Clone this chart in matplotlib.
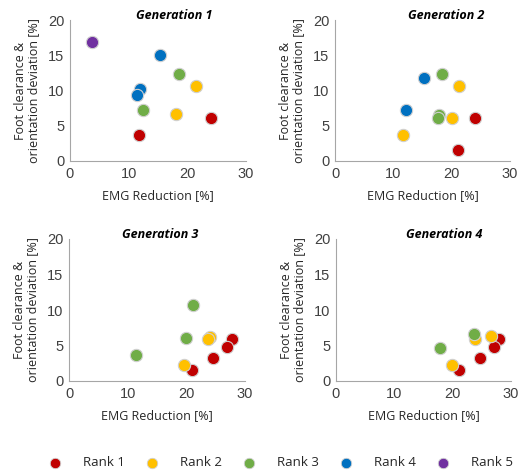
import matplotlib.pyplot as plt
from matplotlib.lines import Line2D

rank_names = ["Rank 1", "Rank 2", "Rank 3", "Rank 4", "Rank 5"]
rank_colors = ["#C00000", "#FFC000", "#70AD47", "#0070C0", "#7030A0"]

# generation -> rank -> (emg reduction, deviation) lists
gen1_x = [[24.1, 11.8], [21.5, 18.1], [18.5, 12.4], [15.3, 12.0, 11.5], [3.7]]
gen1_y = [[6.1, 3.7], [10.6, 6.6], [12.3, 7.3], [15.1, 10.2, 9.4], [16.9]]

gen2_x = [[24.0, 21.1], [21.3, 20.1, 11.7], [18.3, 17.9, 17.7], [15.3, 12.1], []]
gen2_y = [[6.1, 1.5], [10.6, 6.1, 3.7], [12.3, 6.5, 6.1], [11.8, 7.2], []]

gen3_x = [[27.8, 26.9, 24.6, 20.9], [24.0, 23.7, 19.6], [21.1, 20.0, 11.5], [], []]
gen3_y = [[5.9, 4.8, 3.3, 1.5], [6.2, 5.9, 2.3], [10.7, 6.1, 3.7], [], []]

gen4_x = [[27.9, 27.0, 24.6, 21.1], [26.6, 23.9, 19.9], [23.7, 17.9], [], []]
gen4_y = [[5.9, 4.8, 3.3, 1.5], [6.4, 5.9, 2.3], [6.6, 4.6], [], []]

generations = [("Generation 1", gen1_x, gen1_y), ("Generation 2", gen2_x, gen2_y),
               ("Generation 3", gen3_x, gen3_y), ("Generation 4", gen4_x, gen4_y)]

W, H = 519, 472
fig = plt.figure(figsize=(W / 100, H / 100), dpi=100)

# axes boxes in pixels: left, right, top, bottom
boxes = [(70, 246, 20, 161), (335, 510, 20, 161),
         (69, 245, 239, 381), (336, 511, 239, 381)]
title_x = [0.59, 0.635, 0.52, 0.62]

label_font = "Open Sans"
tick_font = "Liberation Sans"

for (title, xs, ys), (l, r, t, b), tx in zip(generations, boxes, title_x):
    ax = fig.add_axes([l / W, 1 - b / H, (r - l) / W, (b - t) / H])
    for rank in range(len(rank_names)):
        if xs[rank]:
            ax.scatter(xs[rank], ys[rank], s=78, color=rank_colors[rank],
                       edgecolors="#d0d0d0", linewidths=0.8, zorder=3, clip_on=False)
    ax.set_xlim(0, 30)
    ax.set_ylim(0, 20)
    ax.set_xticks([0, 10, 20, 30])
    ax.set_yticks([0, 5, 10, 15, 20])
    for sp in ["top", "right"]:
        ax.spines[sp].set_visible(False)
    for sp in ["left", "bottom"]:
        ax.spines[sp].set_color("#a6a6a6")
        ax.spines[sp].set_linewidth(0.8)
    ax.tick_params(length=0, pad=4, labelsize=10.5, labelcolor="#404040")
    for lab in ax.get_xticklabels() + ax.get_yticklabels():
        lab.set_fontfamily(tick_font)
    ax.set_xlabel("EMG Reduction [%]", fontsize=9, family=label_font,
                  color="#262626", labelpad=6)
    ax.set_ylabel("Foot clearance &\norientation deviation [%]", fontsize=9,
                  family=label_font, color="#262626", labelpad=6, linespacing=1.0)
    ax.text(tx, 1.035, title, transform=ax.transAxes, ha="center", va="center",
            fontsize=9, fontweight="bold", fontstyle="italic", family=label_font)

# legend row at the bottom, laid out by hand
leg_y = 1 - 463 / H
for i, (name, c) in enumerate(zip(rank_names, rank_colors)):
    mx = (55 + 97 * i) / W
    fig.add_artist(Line2D([mx], [leg_y], marker="o", linestyle="none", markersize=7.5,
                          markerfacecolor=c, markeredgecolor="#d0d0d0",
                          markeredgewidth=0.6, transform=fig.transFigure))
    fig.text(mx + 28 / W, leg_y, name, ha="left", va="center", fontsize=9.5,
             family=label_font, color="#262626")

fig.savefig("out.png", dpi=100)
